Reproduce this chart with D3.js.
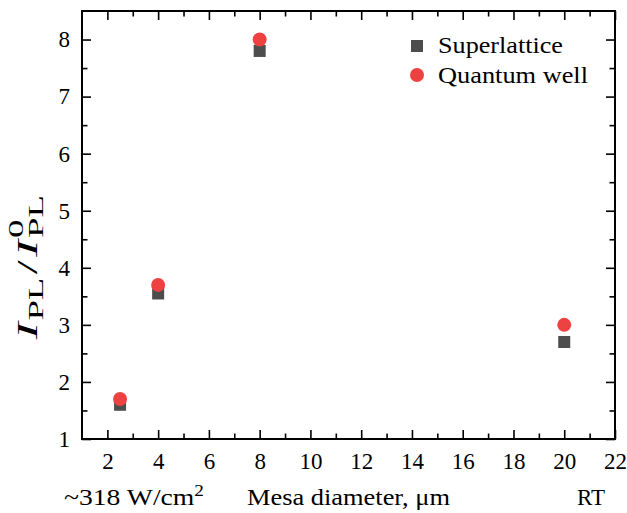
<!DOCTYPE html>
<html>
<head>
<meta charset="utf-8">
<script src="https://cdn.jsdelivr.net/npm/d3@7"></script>
<style>
  body { margin: 0; background: #fff; }
</style>
</head>
<body>
<svg id="chart" width="627" height="513"></svg>
<script>
// Dados.
const diametros = [2.5, 4, 8, 20];
const superlattice = [1.6, 3.55, 7.8, 2.7];
const quantumWell = [1.7, 3.7, 8.0, 3.0];
const xTicksMaiores = [2, 4, 6, 8, 10, 12, 14, 16, 18, 20, 22];
const xTicksMenores = [3, 5, 7, 9, 11, 13, 15, 17, 19, 21];
const yTicksMaiores = [1, 2, 3, 4, 5, 6, 7, 8];
const yTicksMenores = [1.5, 2.5, 3.5, 4.5, 5.5, 6.5, 7.5];
const legendas = ["Superlattice", "Quantum well"];

const fonte = "'Liberation Serif', 'Times New Roman', serif";
const corQuadrado = "#4d4d4d";
const corCirculo = "#ee4242";

const svg = d3.select("#chart");
const margin = { top: 11, right: 12, bottom: 74, left: 82 };
const width = +svg.attr("width") - margin.left - margin.right;
const height = +svg.attr("height") - margin.top - margin.bottom;

const g = svg.append("g")
    .attr("transform", "translate(" + margin.left + "," + margin.top + ")");

const x = d3.scaleLinear().domain([1, 22]).range([0, width]);
const y = d3.scaleLinear().domain([1, 8.5]).range([height, 0]);

// Eixos com ticks para dentro (maiores e menores), nos quatro lados.
function eixo(gerador, ticks, tam, mostrarTexto) {
    return gerador.tickValues(ticks).tickSizeInner(-tam).tickSizeOuter(0)
        .tickFormat(mostrarTexto ? d3.format("d") : "");
}

function desenharEixo(sel) {
    sel.select(".domain").remove();
    sel.selectAll(".tick line").attr("stroke", "#000").attr("stroke-width", 1.6);
    sel.selectAll("text").style("font-family", fonte).attr("font-size", 23).attr("fill", "#000");
}

// inferior
g.append("g").attr("transform", "translate(0," + height + ")")
    .call(eixo(d3.axisBottom(x), xTicksMaiores, 9, true).tickPadding(14))
    .call(desenharEixo)
    .call(s => s.selectAll("text").attr("dy", "0.71em"));
g.append("g").attr("transform", "translate(0," + height + ")")
    .call(eixo(d3.axisBottom(x), xTicksMenores, 5.5, false))
    .call(desenharEixo);
// superior
g.append("g").call(eixo(d3.axisTop(x), xTicksMaiores, 9, false)).call(desenharEixo);
g.append("g").call(eixo(d3.axisTop(x), xTicksMenores, 5.5, false)).call(desenharEixo);
// esquerdo
g.append("g")
    .call(eixo(d3.axisLeft(y), yTicksMaiores, 9, true).tickPadding(12))
    .call(desenharEixo);
g.append("g").call(eixo(d3.axisLeft(y), yTicksMenores, 5.5, false)).call(desenharEixo);
// direito
g.append("g").attr("transform", "translate(" + width + ",0)")
    .call(eixo(d3.axisRight(y), yTicksMaiores, 9, false)).call(desenharEixo);
g.append("g").attr("transform", "translate(" + width + ",0)")
    .call(eixo(d3.axisRight(y), yTicksMenores, 5.5, false)).call(desenharEixo);

// Moldura
g.append("rect")
    .attr("width", width).attr("height", height)
    .attr("fill", "none").attr("stroke", "#000").attr("stroke-width", 2);

// Pontos: quadrados (superlattice) e círculos (quantum well)
const lado = 12;
g.selectAll(".sq").data(diametros).enter().append("rect")
    .attr("class", "sq")
    .attr("x", (d) => x(d) - lado / 2)
    .attr("y", (d, i) => y(superlattice[i]) - lado / 2)
    .attr("width", lado).attr("height", lado)
    .attr("fill", corQuadrado);

g.selectAll(".ci").data(diametros).enter().append("circle")
    .attr("class", "ci")
    .attr("cx", (d) => x(d))
    .attr("cy", (d, i) => y(quantumWell[i]))
    .attr("r", 7)
    .attr("fill", corCirculo);

// Legenda (texto um pouco esticado na horizontal, como no original)
const larguraLegenda = [125, 150];
const leg = svg.append("g").attr("transform", "translate(417,46)");
leg.append("rect").attr("x", -6).attr("y", -6).attr("width", 12).attr("height", 12).attr("fill", corQuadrado);
leg.append("circle").attr("cx", 0).attr("cy", 29).attr("r", 7).attr("fill", corCirculo);
leg.selectAll(".lt").data(legendas).enter().append("text")
    .attr("x", 21)
    .attr("y", (d, i) => 7 + i * 30)
    .attr("font-size", 23)
    .style("font-family", fonte)
    .attr("textLength", (d, i) => larguraLegenda[i])
    .attr("lengthAdjust", "spacingAndGlyphs")
    .text(d => d);

// Rótulo do eixo Y: I_PL / I^0_PL
const ylg = svg.append("g").attr("transform", "translate(37,268) rotate(-90)");
const yl = ylg.append("text")
    .attr("font-size", 29)
    .style("font-family", fonte);
yl.append("tspan").attr("font-style", "italic").text("I");
yl.append("tspan").attr("font-size", 21).attr("dx", 1).attr("dy", 6).text("PL");
yl.append("tspan").attr("dx", 2).attr("dy", -6).text("/");
yl.append("tspan").attr("dx", 2).attr("font-style", "italic").text("I");
yl.append("tspan").attr("font-size", 21).attr("dx", 1).attr("dy", -14).text("0");
yl.append("tspan").attr("font-size", 21).attr("dx", -10.5).attr("dy", 20).text("PL");
// estica ao comprimento medido no original e centraliza
const caixa = yl.node().getBBox();
const escala = 146 / caixa.width;
yl.attr("transform", "scale(" + escala + ",1) translate(" + (-caixa.x - caixa.width / 2) + ",0)");

// Textos abaixo do eixo X
const pot = svg.append("text").attr("x", 64).attr("y", 505)
    .attr("font-size", 23).style("font-family", fonte)
    .attr("textLength", 140).attr("lengthAdjust", "spacingAndGlyphs");
pot.append("tspan").text("~318 W/cm");
pot.append("tspan").attr("font-size", 16).attr("dy", -9).text("2");
svg.append("text").attr("x", 247).attr("y", 505)
    .attr("font-size", 23).style("font-family", fonte)
    .attr("textLength", 203).attr("lengthAdjust", "spacingAndGlyphs")
    .text("Mesa diameter, \u03bcm");
svg.append("text").attr("x", 577).attr("y", 505)
    .attr("font-size", 23).style("font-family", fonte)
    .text("RT");
</script>
</body>
</html>
